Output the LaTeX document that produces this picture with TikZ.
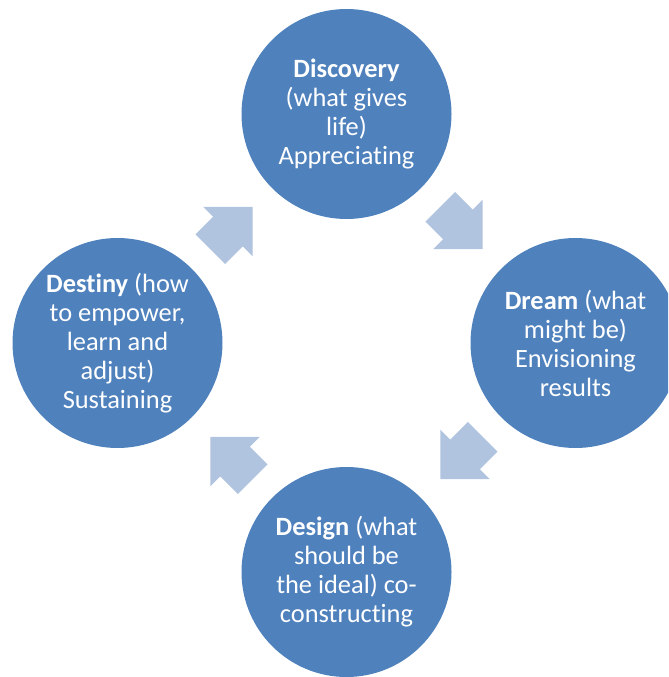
\documentclass[tikz,border=0pt]{standalone}
\usepackage{fontspec}
\setmainfont{Carlito}[Ligatures={NoCommon}]
\definecolor{circblue}{HTML}{4F81BD}
\definecolor{arrowblue}{HTML}{B0C3DF}
\begin{document}
\begin{tikzpicture}[x=0.75pt,y=-0.75pt,
  stage/.style={circle, fill=circblue, minimum size=157.5pt, inner sep=0pt,
    text=white, align=center, font=\fontsize{19.8}{21.75}\selectfont},
  blockarrow/.style={fill=arrowblue}]
\useasboundingbox (0,0) rectangle (668,677);
\clip (0,0) rectangle (668,677);
\node[stage] (discovery) at (346.5,114) {\textbf{Discovery}\\(what gives\\life)\\Appreciating};
\node[stage] (dream) at (575.5,343) {\textbf{Dream} (what\\might be)\\Envisioning\\results};
\node[stage] (design) at (346.5,572) {\textbf{Design} (what\\should be\\the ideal) co-\\constructing};
\node[stage] (destiny) at (117.5,343) {\textbf{Destiny} (how\\to empower,\\learn and\\adjust)\\Sustaining};
\coordinate (a1) at (231.5,228);
\coordinate (a2) at (461.5,228);
\coordinate (a3) at (461.5,458);
\coordinate (a4) at (231.5,458);
\foreach \c/\ang in {a1/45, a2/-45, a3/-135, a4/135}{
  \fill[blockarrow, shift={(\c)}, rotate=\ang]
    (-30,-21) -- (-5,-21) -- (-5,-35) -- (30,0) -- (-5,35) -- (-5,21) -- (-30,21) -- cycle;
}
\end{tikzpicture}
\end{document}
